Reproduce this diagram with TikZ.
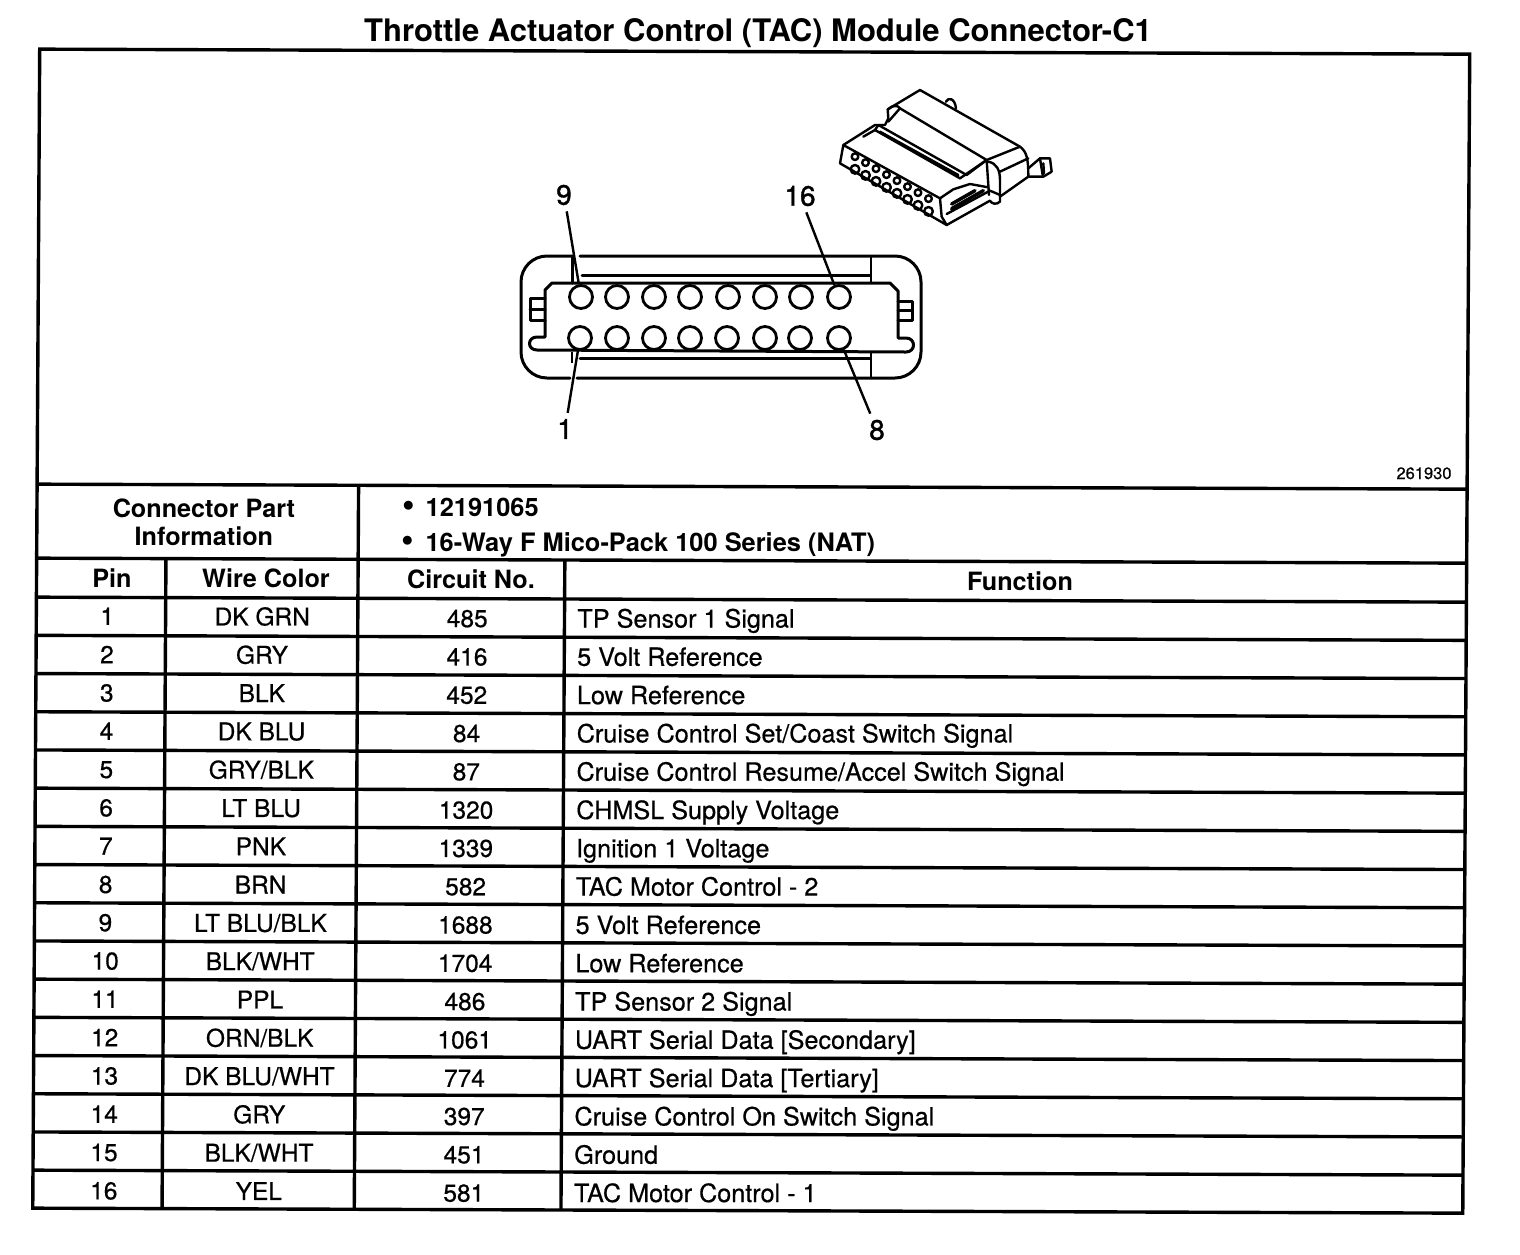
\documentclass[tikz,border=0pt]{standalone}
\usepackage{fontspec}
\setmainfont{TeX Gyre Heros}
\newfontfamily\scanfont[FakeBold=0.5]{TeX Gyre Heros}
\newfontfamily\labelfont[FakeBold=1.2]{TeX Gyre Heros}
\usepackage{tikz}

\tikzset{
	tablerule/.style={line width=3.4pt},
	thinrule/.style={line width=1.2pt},
	bodyline/.style={line width=3pt, line join=round, line cap=round},
	roundbody/.style={bodyline, rounded corners=26pt},
	sketchline/.style={line width=2.4pt, line join=round, line cap=round},
	pinhole/.style={circle, draw, line width=2.8pt, minimum size=23pt, inner sep=0pt},
	pinlabel/.style={inner sep=6pt, font=\labelfont\fontsize{28}{30}\selectfont},
	leader/.style={line width=2.4pt},
	celltext/.style={anchor=base, inner sep=0pt, font=\scanfont\fontsize{24.5}{28}\selectfont},
	functext/.style={celltext, anchor=base west, font=\scanfont\fontsize{25.2}{28}\selectfont},
	headtext/.style={anchor=base, inner sep=0pt, font=\fontsize{25.2}{28}\selectfont\bfseries},
}

\begin{document}
\begin{tikzpicture}[x=1pt,y=-1pt]
	\useasboundingbox (0pt,0pt) rectangle (1520pt,-1254pt);

	\node[anchor=base, inner sep=0pt, font=\fontsize{31}{34}\selectfont\bfseries] (title) at (758,41) {Throttle Actuator Control (TAC) Module Connector-C1};

	% connector face
	\draw[roundbody] (580,256)--(921,256)--(921,378)--(577,378);
	\draw[roundbody] (572,256)--(521,256)--(521,378)--(570,378);
	\draw[bodyline] (572,283)--(572,256);
	\draw[bodyline] (552,283)--(890,283)--(898,291)--(898,338)--(906,338)
		.. controls (916,338) and (916,352) .. (906,352)
		-- (537,350) .. controls (527,350) and (527,337) .. (537,337)
		-- (545,337)--(545,290)--cycle;
	\draw[bodyline] (582,275)--(870,275);
	\draw[bodyline] (580,358)--(870,358);
	\draw[thinrule] (871,256)--(871,283);
	\draw[thinrule] (871,352)--(871,378);
	\draw[thinrule] (572,352)--(572,363);
	\draw[bodyline] (545,298)--(530,298)--(530,320)--(545,320);
	\draw[bodyline] (530,309)--(545,309);
	\draw[bodyline] (898,301)--(912,301)--(912,320)--(898,320);
	\draw[bodyline] (898,310)--(912,310);

	% pins
	\foreach \n/\px in {9/581,10/617,11/654,12/690,13/728,14/765,15/801,16/839}
		\node[pinhole] (pin\n) at (\px,297) {};
	\foreach \n/\px in {1/580,2/617,3/654,4/690,5/727,6/765,7/800,8/839}
		\node[pinhole] (pin\n) at (\px,338) {};

	\node[pinlabel] (lab9) at (564,195) {9};
	\node[pinlabel] (lab16) at (800,196) {16};
	\node[pinlabel] (lab1) at (565,429) {1};
	\node[pinlabel] (lab8) at (877,430) {8};
	\draw[leader] (lab9)--(pin9);
	\draw[leader] (lab16)--(pin16);
	\draw[leader] (lab1)--(pin1);
	\draw[leader] (lab8)--(pin8);

	% small view of the connector
	\begin{scope}[shift={(820pt,-80pt)},x=0.3333pt,y=-0.3333pt]
		\draw[sketchline] (70,195)--(165,135)--(195,135)--(205,115)--(203,88)--(300,30)--(600,200)
			..controls (620,215) and (625,235) .. (625,290)--(540,350)--(540,365)
			..controls (530,375) and (515,372) .. (510,362)--(380,435)--(60,250)--(70,195)--(360,355)--(400,328)--(450,312)--(505,322);
		\draw[sketchline] (360,355)--(365,410)--(380,435);
		\draw[sketchline] (240,85)--(500,240)--(600,200);
		\draw[sketchline] (205,88)..controls (215,75) and (235,75) .. (240,85)--(205,125);
		\draw[sketchline] (420,295)--(165,150)--(175,135)--(440,285)--(500,240);
		\draw[sketchline] (420,295)--(500,240);
		\draw[sketchline] (180,155)--(415,285);
		\draw[sketchline] (130,170)--(165,150);
		\draw[sketchline] (500,240)--(507,345);
		\draw[sketchline] (505,245)..controls (530,250) and (540,270) .. (540,300)--(540,350);
		\draw[sketchline] (540,275)--(625,235);
		\draw[sketchline] (378,65)..controls (385,50) and (405,55) .. (408,85);
		\draw[sketchline] (625,265)--(660,235)--(690,235)--(695,275)--(670,290)--(625,290);
		\draw[sketchline] (670,250)--(672,280);
		\draw[sketchline] (660,235)--(668,285);
		\draw[sketchline, line width=3.5pt] (395,372)--(465,332);
		\draw[sketchline, line width=3.5pt] (395,386)--(490,332);
		\draw[sketchline] (380,402)--(510,332)--(540,345);
		\foreach \i in {0,...,7} {
			\draw[sketchline] ({105+31.5*\i},{230+18*\i}) circle[radius=10];
			\draw[sketchline] ({105+31.5*\i},{268+18*\i}) circle[radius=13];
		}
	\end{scope}

	\node[anchor=base, inner sep=0pt, font=\scanfont\fontsize{16.5}{18}\selectfont] (figno) at (1424,479) {261930};

	% the table, scan is a little askew
	\begin{scope}[x={(1pt,-0.0035pt)},y={(-0.006pt,-1pt)}]
		\draw[tablerule] (40,49)--(1470,49)--(1470,1208)--(40,1208)--cycle;
		\draw[tablerule] (40,484)--(1470,484);
		\draw[tablerule] (40,558)--(1470,558);
		\foreach \k in {0,...,15}
			\draw[tablerule] (40,{597+38.2*\k})--(1470,{597+38.2*\k});
		\draw[tablerule] (361.5,484)--(361.5,1208);
		\draw[tablerule] (169.3,558)--(169.3,1208);
		\draw[tablerule] (568.2,558)--(568.2,1208);

		\node[headtext, anchor=center, align=center] (partinfo) at (207,522) {Connector Part\\Information};
		\node[headtext, anchor=base west] (partno) at (405,515) {\fontsize{36}{28}\selectfont•\fontsize{25.4}{28}\selectfont\hspace{11pt}12191065};
		\node[headtext, anchor=base west] (partname) at (405,550) {\fontsize{36}{28}\selectfont•\fontsize{25.4}{28}\selectfont\hspace{11pt}16-Way F Mico-Pack 100 Series (NAT)};

		\node[headtext] (headpin) at (115.5,587) {Pin};
		\node[headtext] (headwire) at (269.5,587) {Wire Color};
		\node[headtext] (headcircuit) at (474.5,587) {Circuit No.};
		\node[headtext] (headfunc) at (1023.5,587) {Function};

		\foreach \n/\wire/\circuit/\func in {
			1/DK GRN/485/TP Sensor 1 Signal,
			2/GRY/416/5 Volt Reference,
			3/BLK/452/Low Reference,
			4/DK BLU/84/{Cruise Control Set/Coast Switch Signal},
			5/{GRY/BLK}/87/{Cruise Control Resume/Accel Switch Signal},
			6/LT BLU/1320/CHMSL Supply Voltage,
			7/PNK/1339/Ignition 1 Voltage,
			8/BRN/582/TAC Motor Control - 2,
			9/{LT BLU/BLK}/1688/5 Volt Reference,
			10/{BLK/WHT}/1704/Low Reference,
			11/PPL/486/TP Sensor 2 Signal,
			12/{ORN/BLK}/1061/UART Serial Data [Secondary],
			13/{DK BLU/WHT}/774/UART Serial Data [Tertiary],
			14/GRY/397/Cruise Control On Switch Signal,
			15/{BLK/WHT}/451/Ground,
			16/YEL/581/TAC Motor Control - 1}
		{
			\pgfmathsetmacro\rowbase{624.5+38.3*(\n-1)}
			\node[celltext] (rowpin\n) at (111,\rowbase) {\n};
			\node[celltext] (rowwire\n) at (266,\rowbase) {\wire};
			\node[celltext] (rowcircuit\n) at (471,\rowbase+1) {\circuit};
			\node[functext] (rowfunc\n) at (581,\rowbase+1) {\func};
		}
	\end{scope}
\end{tikzpicture}
\end{document}
